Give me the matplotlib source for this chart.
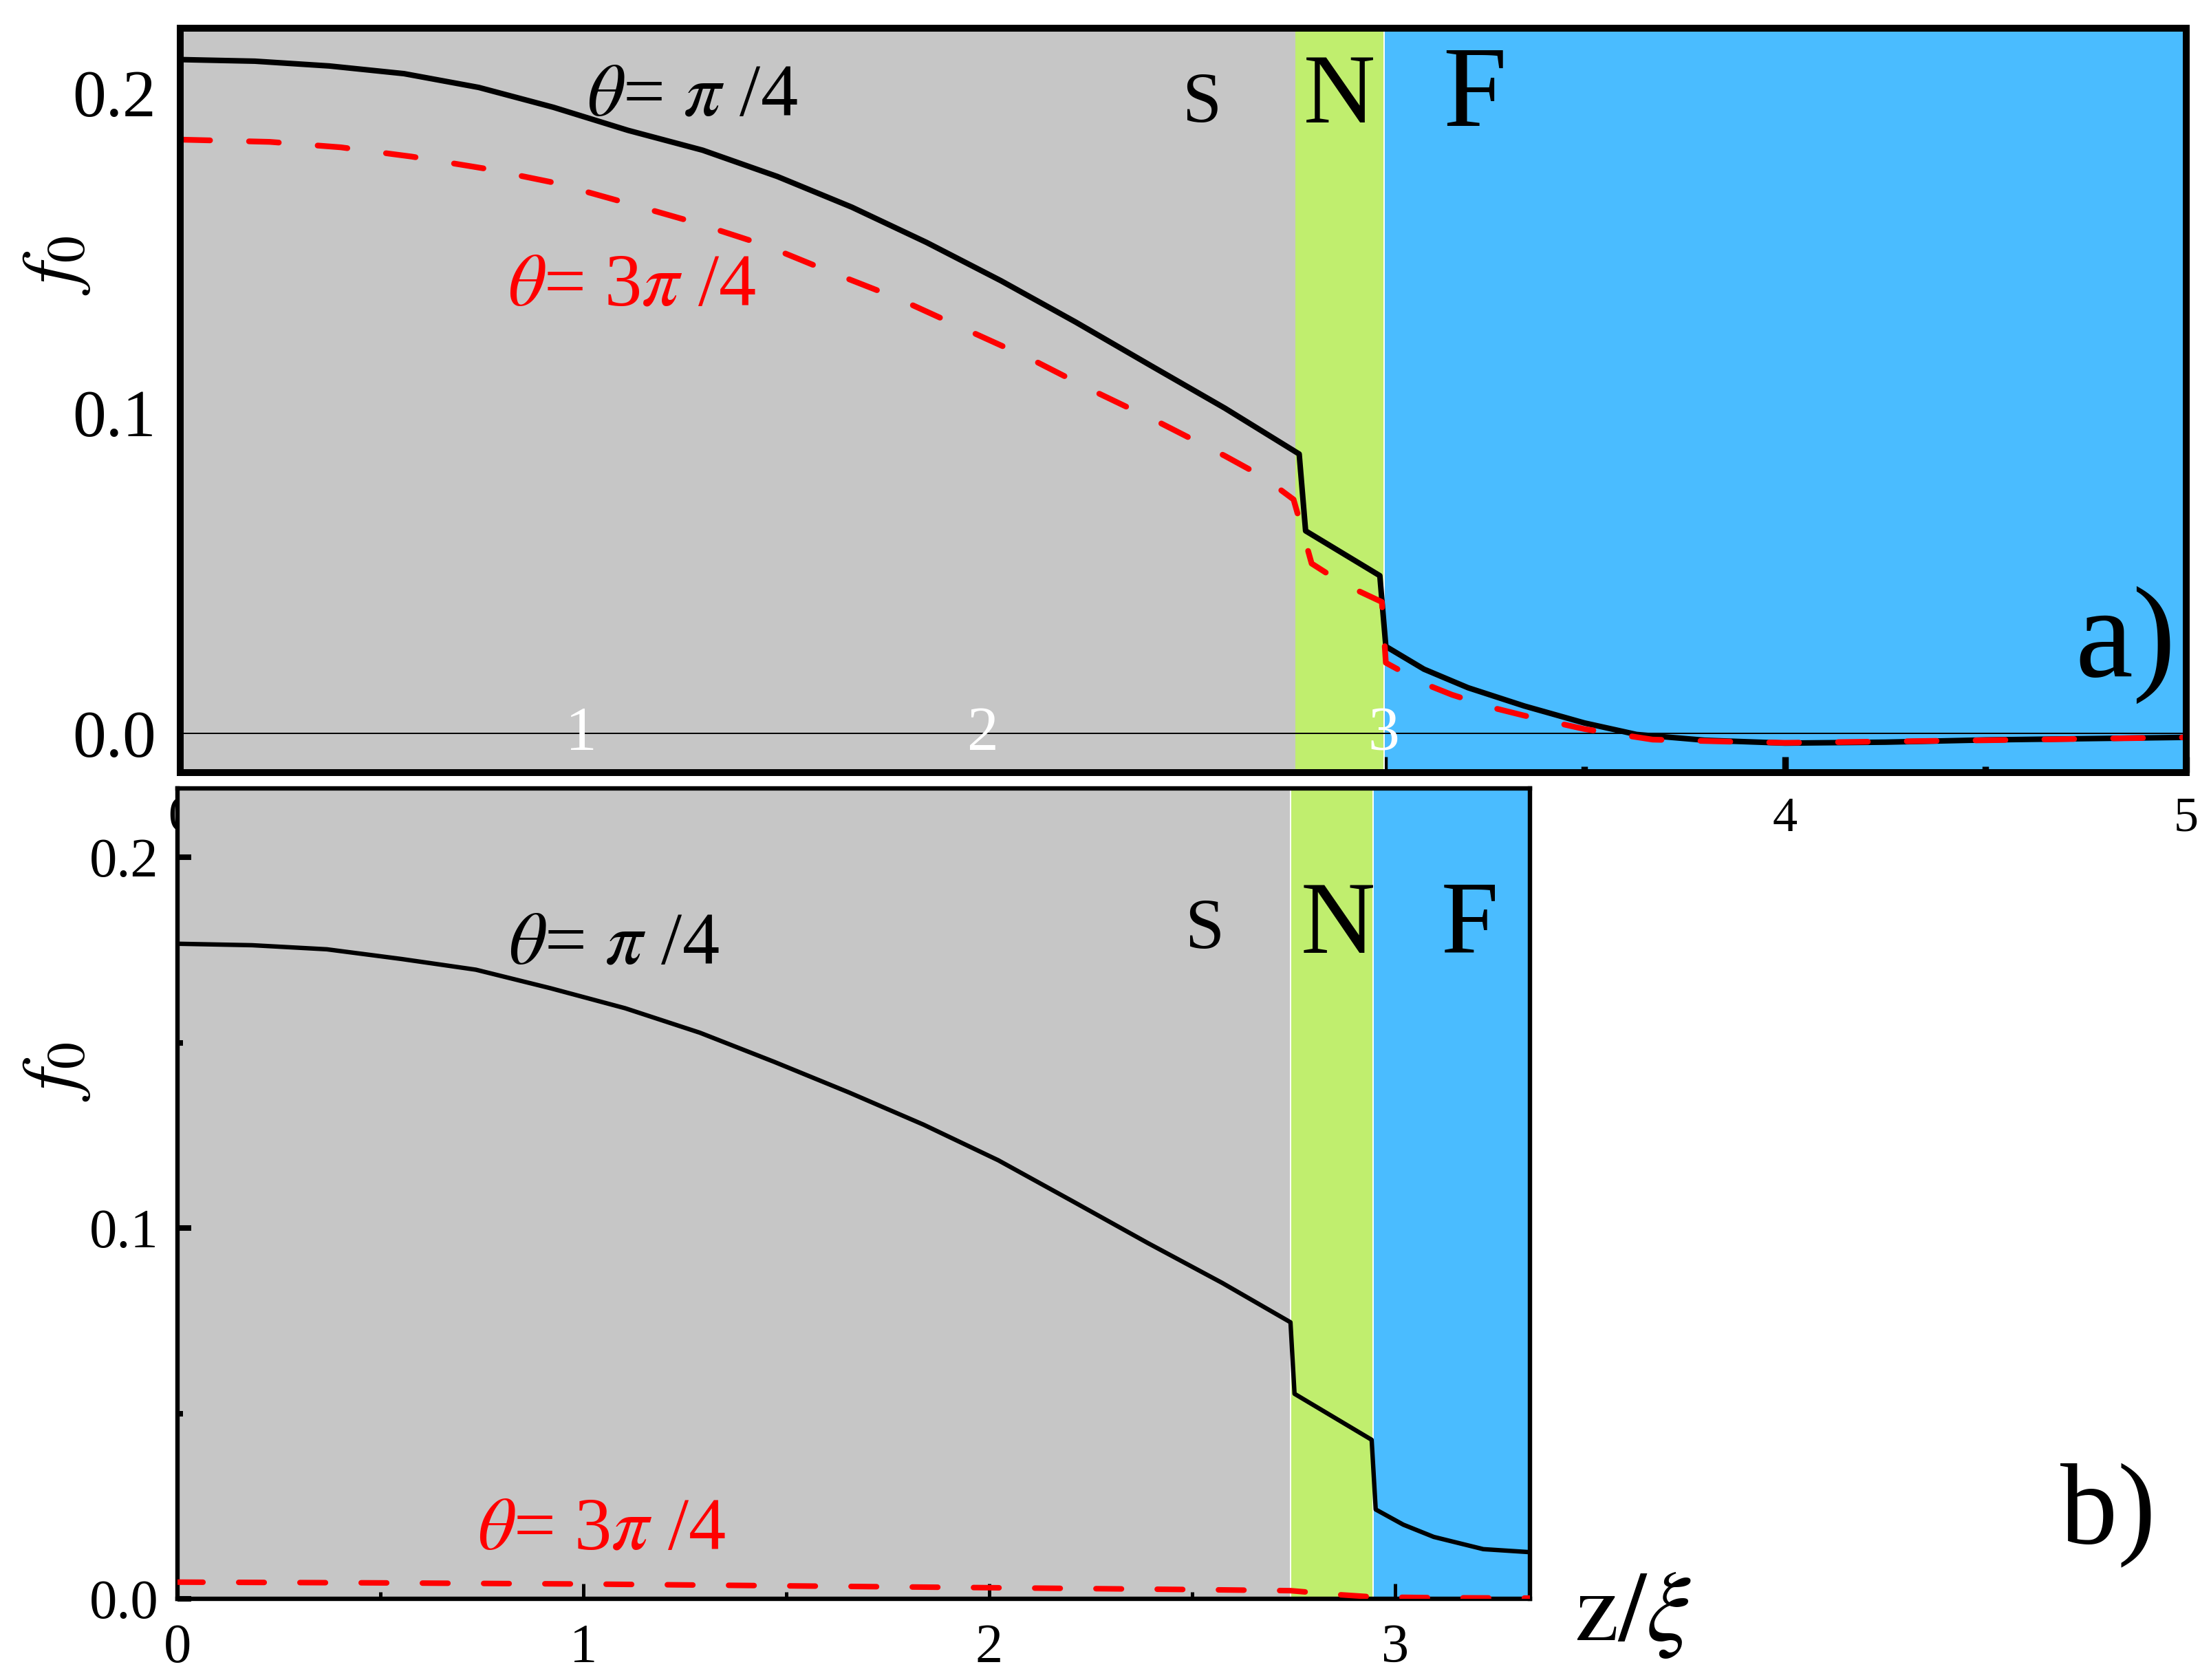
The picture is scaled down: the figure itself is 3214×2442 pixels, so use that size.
import matplotlib
matplotlib.use('Agg')
import matplotlib.pyplot as plt
from matplotlib.ticker import MultipleLocator, FormatStrFormatter

plt.rcParams['font.family'] = ['Liberation Serif', 'DejaVu Serif']
plt.rcParams['mathtext.fontset'] = 'stix'

# ---------------- data ----------------
# panel a)
a_regions = [0.0, 2.78, 3.0, 5.0]          # S | N | F boundaries
a_x_pi4 = [0, 0.186, 0.372, 0.558, 0.744, 0.930, 1.116, 1.302, 1.488, 1.674, 1.860,
           2.046, 2.232, 2.418, 2.604, 2.789, 2.805, 2.99, 3.005, 3.1, 3.21, 3.35,
           3.5, 3.63, 3.8, 4.0, 4.25, 4.5, 4.75, 5.0]
a_y_pi4 = [0.2104, 0.2099, 0.2084, 0.2060, 0.2017, 0.1955, 0.1883, 0.1821, 0.1739,
           0.1643, 0.1533, 0.1413, 0.1284, 0.1149, 0.1015, 0.0872, 0.0632, 0.0492,
           0.0271, 0.0200, 0.0142, 0.0085, 0.0032, -0.0004, -0.0022, -0.0031,
           -0.0028, -0.0021, -0.0017, -0.0013]
a_x_3pi4 = [0, 0.223, 0.40, 0.577, 0.762, 0.930, 1.107, 1.283, 1.460, 1.618, 1.785,
            1.953, 2.120, 2.278, 2.446, 2.604, 2.70, 2.775, 2.80, 2.82, 2.87, 2.91,
            2.995, 3.005, 3.1, 3.17, 3.27, 3.35, 3.5, 3.67, 3.85, 4.0, 4.5, 5.0]
a_y_3pi4 = [0.1854, 0.1847, 0.1830, 0.1801, 0.1763, 0.1720, 0.1658, 0.1595, 0.1523,
            0.1442, 0.1360, 0.1264, 0.1169, 0.1068, 0.0967, 0.0866, 0.0800, 0.0730,
            0.0620, 0.0530, 0.0490, 0.0460, 0.0410, 0.0220, 0.0155, 0.0120, 0.0080,
            0.0055, 0.0013, -0.0020, -0.0026, -0.0030, -0.0022, -0.0013]

# panel b)
b_regions = [0.0, 2.742, 2.946, 3.332]
b_x_pi4 = [0, 0.184, 0.368, 0.551, 0.735, 0.919, 1.103, 1.287, 1.471, 1.654, 1.838,
           2.022, 2.206, 2.390, 2.574, 2.742, 2.752, 2.942, 2.952, 3.02, 3.095,
           3.217, 3.33]
b_y_pi4 = [0.1767, 0.1763, 0.1752, 0.1726, 0.1697, 0.1647, 0.1593, 0.1527, 0.1448,
           0.1366, 0.1279, 0.1183, 0.1072, 0.0960, 0.0852, 0.0746, 0.0553, 0.0429,
           0.0241, 0.0200, 0.0167, 0.0134, 0.0126]
b_x_3pi4 = [0, 0.5, 1.0, 1.5, 2.0, 2.5, 2.742, 2.85, 2.946, 3.1, 3.33]
b_y_3pi4 = [0.0045, 0.0043, 0.0040, 0.0035, 0.0030, 0.0025, 0.0022, 0.0012,
            0.0005, 0.0003, 0.0002]

region_labels = ['S', 'N', 'F']
region_colors = ['#C6C6C6', '#C0EE6E', '#4ABCFF']

# ---------------- figure ----------------
W, H = 3214, 2442
DPI = 200
fig = plt.figure(figsize=(W / DPI, H / DPI), dpi=DPI)


def frac(l, t, r, b):
    return [l / W, 1 - b / H, (r - l) / W, (b - t) / H]


ax1 = fig.add_axes(frac(262, 41, 3178, 1123))
ax2 = fig.add_axes(frac(258, 1146, 2224, 2324))

# ----- panel a -----
# S and N patches sit above the tick marks (as in the original), F below them
ax1.axvspan(a_regions[0], a_regions[1], color=region_colors[0], lw=0, zorder=2.6)
ax1.axvspan(a_regions[1], a_regions[2], color=region_colors[1], lw=0, zorder=2.6)
ax1.axvspan(a_regions[2], a_regions[3], color=region_colors[2], lw=0, zorder=0)
ax1.axvline(a_regions[2], color='white', lw=0.7, zorder=2.65)
ax1.axhline(0, color='black', lw=0.7, zorder=2.7)
ax1.plot(a_x_pi4, a_y_pi4, color='black', lw=2.9, zorder=3)
ax1.plot(a_x_3pi4, a_y_3pi4, color='red', lw=3.0, dash_capstyle='round',
         linestyle=(0, (5.2, 6.8)), zorder=4)
ax1.set_xlim(0, 5)
ax1.set_ylim(-0.0123, 0.2202)

ax1.xaxis.set_major_locator(MultipleLocator(1))
ax1.xaxis.set_minor_locator(MultipleLocator(0.5))
ax1.yaxis.set_major_locator(MultipleLocator(0.1))
ax1.yaxis.set_minor_locator(MultipleLocator(0.05))
ax1.xaxis.set_major_formatter(FormatStrFormatter('%d'))
ax1.yaxis.set_major_formatter(FormatStrFormatter('%.1f'))
ax1.tick_params(axis='x', which='major', direction='in', length=8.3, width=3.4,
                labelsize=26, pad=12.5, top=False)
ax1.tick_params(axis='x', which='minor', direction='in', length=3.2, width=3.4, top=False)
ax1.tick_params(axis='y', which='both', direction='in', length=3.2, width=3.6,
                right=False)
ax1.tick_params(axis='y', which='major', labelsize=35, pad=12.5)
for s in ax1.spines.values():
    s.set_linewidth(3.6)
    s.set_zorder(10)

for xv in [1, 2, 3]:
    ax1.text(xv, -0.0005, str(xv), color='white', fontsize=33, ha='center',
             va='center', zorder=5)

ax1.text(1.277, 0.193, r'$\theta$= $\pi$ /4', fontsize=39, ha='center',
         va='baseline', color='black', zorder=6)
ax1.text(1.125, 0.1338, r'$\theta$= 3$\pi$ /4', fontsize=39, ha='center',
         va='baseline', color='red', zorder=6)
ax1.text(2.545, 0.191, region_labels[0], fontsize=37, ha='center', va='baseline', zorder=6)
ax1.text(2.889, 0.1908, region_labels[1], fontsize=52, ha='center', va='baseline', zorder=6)
ax1.text(3.226, 0.1897, region_labels[2], fontsize=60, ha='center', va='baseline', zorder=6)
ax1.text(4.849, 0.0178, 'a)', fontsize=68, ha='center', va='baseline', zorder=6)

# ----- panel b -----
for i in range(3):
    ax2.axvspan(b_regions[i], b_regions[i + 1], color=region_colors[i], lw=0, zorder=0)
for xb in b_regions[1:3]:
    ax2.axvline(xb, color='white', lw=0.7, zorder=0.5)
ax2.plot(b_x_pi4, b_y_pi4, color='black', lw=2.3, zorder=3)
ax2.plot(b_x_3pi4, b_y_3pi4, color='red', lw=2.9, dash_capstyle='round',
         linestyle=(0, (4.6, 6.45)), zorder=4)
ax2.set_xlim(0, 3.332)
ax2.set_ylim(0, 0.2186)

ax2.xaxis.set_major_locator(MultipleLocator(1))
ax2.xaxis.set_minor_locator(MultipleLocator(0.5))
ax2.yaxis.set_major_locator(MultipleLocator(0.1))
ax2.yaxis.set_minor_locator(MultipleLocator(0.05))
ax2.xaxis.set_major_formatter(FormatStrFormatter('%d'))
ax2.yaxis.set_major_formatter(FormatStrFormatter('%.1f'))
ax2.tick_params(axis='x', which='major', direction='in', length=8, width=1.8,
                labelsize=29, pad=13, top=False)
ax2.tick_params(axis='x', which='minor', direction='in', length=3.6, width=1.8, top=False)
ax2.tick_params(axis='y', which='major', direction='in', length=7.2, width=2.9,
                labelsize=29, pad=10, right=False)
ax2.tick_params(axis='y', which='minor', direction='in', length=3, width=2.9, right=False)
for s in ax2.spines.values():
    s.set_linewidth(2.3)

ax2.text(1.075, 0.1714, r'$\theta$= $\pi$ /4', fontsize=39, ha='center',
         va='baseline', color='black', zorder=6)
ax2.text(1.044, 0.0134, r'$\theta$= 3$\pi$ /4', fontsize=39, ha='center',
         va='baseline', color='red', zorder=6)
ax2.text(2.529, 0.1755, region_labels[0], fontsize=37, ha='center', va='baseline')
ax2.text(2.859, 0.1742, region_labels[1], fontsize=54, ha='center', va='baseline')
ax2.text(3.183, 0.1746, region_labels[2], fontsize=54, ha='center', va='baseline')

# ----- figure-level labels -----
fig.text(3064 / W, 1 - 2243 / H, 'b)', fontsize=60, ha='center', va='baseline')
fig.text(2373 / W, 1 - 2384 / H, r'$\mathrm{z}/\xi$', fontsize=52, ha='center',
         va='baseline')
fig.text(82 / W, 1 - 386 / H, r'$f_0$', fontsize=40, rotation=90, ha='center',
         va='center')
fig.text(82 / W, 1 - 1558 / H, r'$f_0$', fontsize=40, rotation=90, ha='center',
         va='center')

fig.savefig('out.png', dpi=DPI)
